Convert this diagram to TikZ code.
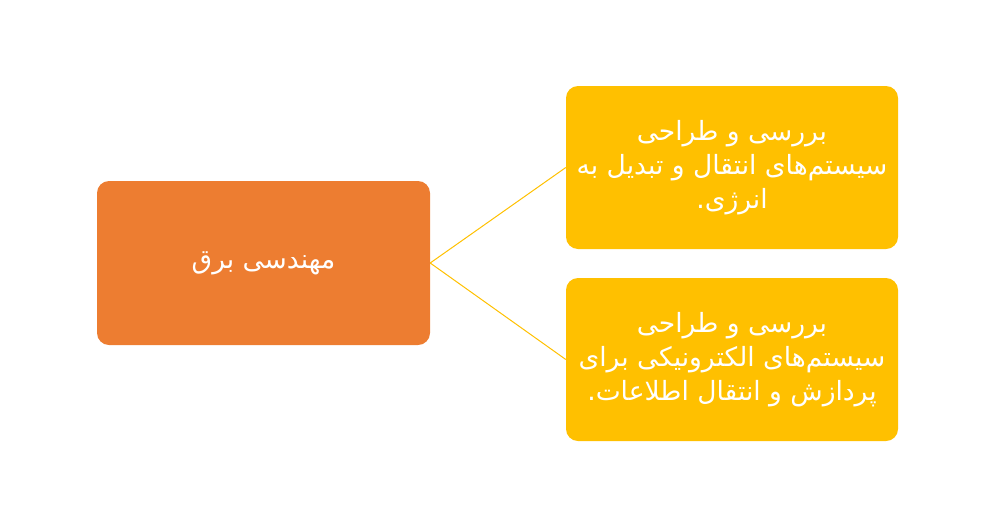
\documentclass[tikz,border=0pt]{standalone}
\usepackage{fontspec}
\TeXXeTstate=1
\newfontfamily\arabicfont[Script=Arabic]{DejaVu Sans}
\definecolor{orangebox}{HTML}{ED7D31}
\definecolor{goldbox}{HTML}{FFC000}
\begin{document}
\begin{tikzpicture}[x=1pt,y=-1pt,
  box/.style={rounded corners=12pt, minimum width=333pt, minimum height=164pt, inner sep=0pt,
    text=white, align=center, font=\arabicfont\fontsize{26.5}{34}\selectfont},
  conn/.style={draw=goldbox, line width=1pt}]
\useasboundingbox (0,0) rectangle (991,528);
\node[box, fill=orangebox] (root) at (263.5,263) {\beginR مهندسی برق\endR};
\node[box, fill=goldbox, minimum width=332pt, minimum height=163pt] (a) at (732,167.5)
  {\beginR بررسی و طراحی\endR\\\beginR سیستم‌های انتقال و تبدیل به\endR\\\beginR انرژی.\endR};
\node[box, fill=goldbox, minimum width=332pt, minimum height=163pt] (b) at (732,359.5)
  {\beginR بررسی و طراحی\endR\\\beginR سیستم‌های الکترونیکی برای\endR\\\beginR پردازش و انتقال اطلاعات.\endR};
\draw[conn] (root.east) -- (a.west);
\draw[conn] (root.east) -- (b.west);
\end{tikzpicture}
\end{document}
